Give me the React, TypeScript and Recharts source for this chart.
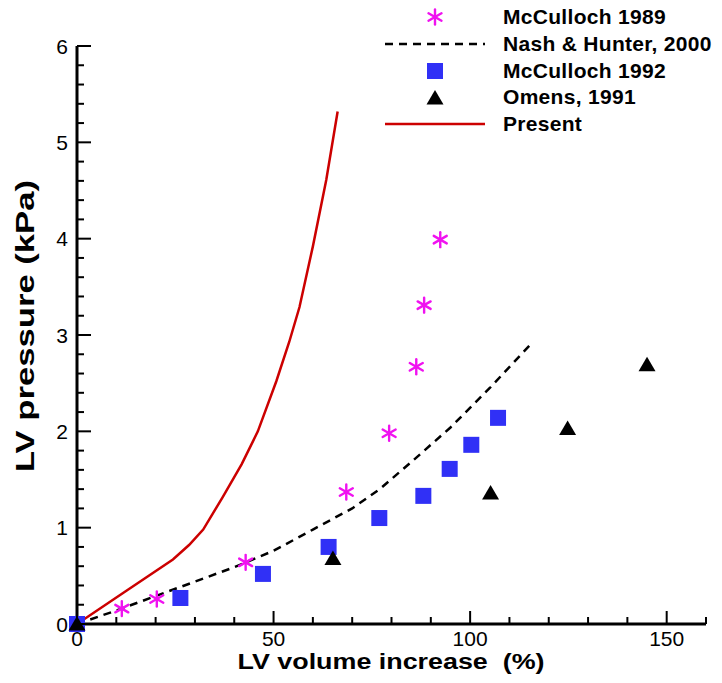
import React from "react";
import {
  ComposedChart,
  Line,
  Scatter,
  XAxis,
  YAxis,
  Legend,
  Label,
} from "recharts";

// volume increase (%) / pressure (kPa)
const mcc1989Vol = [11.4, 20.3, 42.9, 68.5, 79.4, 86.3, 88.3, 92.4];
const mcc1989Pres = [0.16, 0.26, 0.64, 1.37, 1.98, 2.67, 3.31, 3.99];

const mcc1992Vol = [0, 26.3, 47.3, 64.0, 76.9, 88.1, 94.8, 100.3, 107.1];
const mcc1992Pres = [0, 0.27, 0.52, 0.8, 1.1, 1.33, 1.61, 1.86, 2.14];

const omensVol = [0, 65.1, 105.2, 124.8, 145.0];
const omensPres = [0, 0.68, 1.36, 2.03, 2.69];

const nashVol = [0, 10, 20, 30, 40, 50, 60, 70, 77, 85, 95, 105, 116];
const nashPres = [0, 0.14, 0.29, 0.44, 0.59, 0.76, 0.98, 1.2, 1.4, 1.68, 2.04, 2.45, 2.93];

const presentVol = [0, 12, 24.4, 28.5, 32.1, 37.1, 41.9, 46, 50.7, 54, 56.6, 60, 63.4, 66.3];
const presentPres = [0, 0.33, 0.67, 0.82, 0.98, 1.32, 1.66, 2.0, 2.52, 2.93, 3.29, 3.92, 4.61, 5.32];

const xTicks = [0, 10, 20, 30, 40, 50, 60, 70, 80, 90, 100, 110, 120, 130, 140, 150, 160];
const xMajor = [0, 50, 100, 150];
const yTicks = [
  0, 0.2, 0.4, 0.6, 0.8, 1, 1.2, 1.4, 1.6, 1.8, 2, 2.2, 2.4, 2.6, 2.8, 3, 3.2, 3.4, 3.6, 3.8,
  4, 4.2, 4.4, 4.6, 4.8, 5, 5.2, 5.4, 5.6, 5.8, 6,
];
const yMajor = [0, 1, 2, 3, 4, 5, 6];

const legendItems = ["McCulloch 1989", "Nash & Hunter, 2000", "McCulloch 1992", "Omens, 1991", "Present"];

const zip = (v: number[], p: number[]) => v.map((x, i) => ({ v: x, p: p[i] }));

const MAGENTA = "#f012f0";
const BLUE = "#3030f6";
const RED = "#cc0000";
const FONT = "Liberation Sans, Arial, sans-serif";

function Asterisk({ cx, cy }: any) {
  const r = 7.5;
  const dx = r * 0.866;
  const dy = r * 0.5;
  return (
    <g stroke={MAGENTA} strokeWidth={2.4} strokeLinecap="round">
      <line x1={cx} y1={cy - r} x2={cx} y2={cy + r} />
      <line x1={cx - dx} y1={cy - dy} x2={cx + dx} y2={cy + dy} />
      <line x1={cx - dx} y1={cy + dy} x2={cx + dx} y2={cy - dy} />
    </g>
  );
}

function Square({ cx, cy }: any) {
  return <rect x={cx - 8} y={cy - 8} width={16} height={16} fill={BLUE} />;
}

function Triangle({ cx, cy }: any) {
  return <polygon points={`${cx - 8.5},${cy + 6.5} ${cx + 8.5},${cy + 6.5} ${cx},${cy - 8}`} fill="#000" />;
}

function XTick({ x, y, payload }: any) {
  const major = xMajor.includes(payload.value);
  return (
    <g>
      <line x1={x} y1={y} x2={x} y2={y - (major ? 13 : 7)} stroke="#000" strokeWidth={2} />
      {major && (
        <text x={x} y={y + 22} textAnchor="middle" fontSize={21} fontFamily={FONT} fill="#000">
          {payload.value}
        </text>
      )}
    </g>
  );
}

function YTick({ x, y, payload }: any) {
  const major = yMajor.includes(payload.value);
  return (
    <g>
      <line x1={x} y1={y} x2={x + (major ? 14 : 7)} y2={y} stroke="#000" strokeWidth={2} />
      {major && (
        <text x={x - 9} y={y} dy="0.36em" textAnchor="end" fontSize={21} fontFamily={FONT} fill="#000">
          {payload.value}
        </text>
      )}
    </g>
  );
}

function LegendBox() {
  const symbols = [
    <Asterisk cx={55} cy={13} />,
    <line x1={5} y1={13} x2={105} y2={13} stroke="#000" strokeWidth={2.5} strokeDasharray="8 6" />,
    <Square cx={55} cy={13} />,
    <Triangle cx={55} cy={14} />,
    <line x1={5} y1={13} x2={105} y2={13} stroke={RED} strokeWidth={2.5} />,
  ];
  return (
    <div style={{ fontFamily: FONT }}>
      {legendItems.map((name, i) => (
        <div key={name} style={{ display: "flex", alignItems: "center", height: 26.7 }}>
          <svg width={110} height={26} style={{ marginRight: 13 }}>
            {symbols[i]}
          </svg>
          <span style={{ fontSize: 21, fontWeight: 700, letterSpacing: 0.3, color: "#000", whiteSpace: "nowrap" }}>
            {name}
          </span>
        </div>
      ))}
    </div>
  );
}

export default function App() {
  return (
    <ComposedChart width={706} height={667} margin={{ top: 38, right: 8, left: 0, bottom: 0 }}>
      <XAxis
        type="number"
        dataKey="v"
        domain={[0, 160]}
        ticks={xTicks}
        interval={0}
        height={51}
        tickSize={0}
        tickMargin={0}
        tickLine={false}
        tick={<XTick />}
        axisLine={{ stroke: "#000", strokeWidth: 3 }}
      >
        <Label
          content={() => (
            <text
              x={383}
              y={661}
              textAnchor="middle"
              fontSize={22}
              fontWeight={700}
              fontFamily={FONT}
              textLength={307}
              lengthAdjust="spacingAndGlyphs"
              style={{ whiteSpace: "pre" }}
            >
              LV volume increase  (%)
            </text>
          )}
        />
      </XAxis>
      <YAxis
        type="number"
        dataKey="p"
        domain={[0, 6]}
        ticks={yTicks}
        interval={0}
        width={69}
        tickSize={0}
        tickMargin={0}
        tickLine={false}
        tick={<YTick />}
        axisLine={{ stroke: "#000", strokeWidth: 3 }}
      >
        <Label
          content={() => (
            <text
              x={17}
              y={318}
              transform="rotate(-90 17 318)"
              textAnchor="middle"
              dominantBaseline="central"
              fontSize={25}
              fontWeight={700}
              fontFamily={FONT}
              textLength={292}
              lengthAdjust="spacingAndGlyphs"
            >
              LV pressure (kPa)
            </text>
          )}
        />
      </YAxis>
      <Legend
        layout="horizontal"
        verticalAlign="middle"
        align="center"
        wrapperStyle={{ top: -4, left: 372, width: 340 }}
        content={() => <LegendBox />}
      />
      <Line
        data={zip(nashVol, nashPres)}
        dataKey="p"
        type="linear"
        stroke="#000"
        strokeWidth={2.5}
        strokeDasharray="8 6"
        dot={false}
        isAnimationActive={false}
      />
      <Line
        data={zip(presentVol, presentPres)}
        dataKey="p"
        type="linear"
        stroke={RED}
        strokeWidth={2.5}
        dot={false}
        isAnimationActive={false}
      />
      <Scatter data={zip(mcc1989Vol, mcc1989Pres)} dataKey="p" shape={<Asterisk />} isAnimationActive={false} />
      <Scatter data={zip(mcc1992Vol, mcc1992Pres)} dataKey="p" shape={<Square />} isAnimationActive={false} />
      <Scatter data={zip(omensVol, omensPres)} dataKey="p" shape={<Triangle />} isAnimationActive={false} />
    </ComposedChart>
  );
}
